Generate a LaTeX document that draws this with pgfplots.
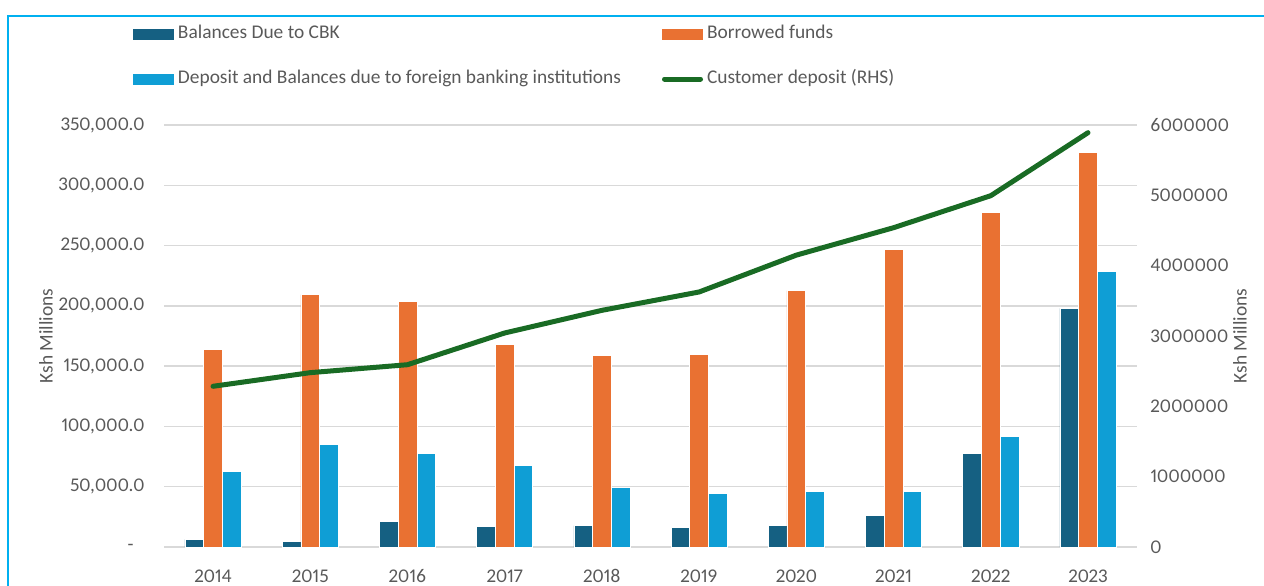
\documentclass[border=0pt]{standalone}
\usepackage{pgfplots}
\pgfplotsset{compat=1.18}
\usepackage{pgfplotstable}
\usepackage{fontspec}
\setmainfont{Carlito}[Numbers={Lining,Proportional}]
\definecolor{cbk}{HTML}{156082}
\definecolor{borr}{HTML}{E97132}
\definecolor{forn}{HTML}{0F9ED5}
\definecolor{cust}{HTML}{196B24}
\definecolor{gridc}{HTML}{D9D9D9}
\definecolor{txt}{HTML}{595959}
\definecolor{framec}{HTML}{00B0F0}

\pgfplotstableread{
x year cbk borrowed foreign customer
0 2014 6400 164000 62800 2285000
1 2015 4400 209300 85200 2479000
2 2016 21300 203500 77400 2592000
3 2017 17200 168100 67800 3043000
4 2018 17700 159000 49500 3365000
5 2019 16300 159600 44300 3626000
6 2020 18000 212700 46400 4150000
7 2021 26300 246600 46400 4540000
8 2022 77700 277600 91800 4995000
9 2023 198000 327600 228900 5891000
}\datatable

\newcommand{\fs}{\fontsize{9.7}{11.5}\selectfont}

\begin{document}
\begin{tikzpicture}
\begin{axis}[
  at={(0,0)}, anchor=south west,
  scale only axis, width=486.1pt, height=211pt,
  ybar=0pt, bar width=9.35pt,
  xmin=-0.5, xmax=9.5,
  xtick={0,1,2,3,4,5,6,7,8,9},
  xticklabels={2014,2015,2016,2017,2018,2019,2020,2021,2022,2023},
  ymin=0, ymax=350000,
  ytick={0,50000,100000,150000,200000,250000,300000,350000},
  yticklabels={{-\hphantom{0}},{50,000.0},{100,000.0},{150,000.0},{200,000.0},{250,000.0},{300,000.0},{350,000.0}},
  scaled y ticks=false,
  ymajorgrids, grid style={gridc, line width=0.75pt},
  major tick length=0pt,
  axis x line*=bottom, axis y line*=left,
  axis line style={draw=none},
  ticklabel style={font=\fs, text=txt, inner sep=0pt},
  yticklabel style={anchor=east, xshift=-9.7pt},
  xticklabel style={anchor=north, yshift=-11pt, text height=6.3pt, text depth=0pt},
  ylabel={Ksh Millions},
  every axis y label/.style={at={(axis description cs:-0.1218,0.5)}, anchor=center, rotate=90, font=\fs, text=txt},
  legend columns=2,
  legend cell align=left,
  legend style={at={(-0.0323,1.2355)}, anchor=north west, draw=none, fill=none, inner sep=0pt,
    font=\fs, text=txt, row sep=14.5pt,
    nodes={inner sep=0pt, text height=6pt, text depth=2pt},
    /tikz/every odd column/.append style={column sep=2pt},
    /tikz/every even column/.append style={column sep=20.5pt}},
]
\addplot[fill=cbk, draw=white, line width=0.3pt,
  legend image code/.code={\fill[cbk] (0pt,-2.5pt) rectangle (20pt,2.5pt);}]
  table[x=x, y=cbk] {\datatable};
\addlegendentry{Balances Due to CBK}
\addplot[fill=borr, draw=white, line width=0.3pt,
  legend image code/.code={\fill[borr] (0pt,-2.5pt) rectangle (20pt,2.5pt);}]
  table[x=x, y=borrowed] {\datatable};
\addlegendentry{Borrowed funds}
\addplot[fill=forn, draw=white, line width=0.3pt,
  legend image code/.code={\fill[forn] (0pt,-2.5pt) rectangle (20pt,2.5pt);}]
  table[x=x, y=foreign] {\datatable};
\addlegendentry{Deposit and Balances due to foreign banking institutions}
\addlegendimage{legend image code/.code={\draw[cust, line width=2.5pt, line cap=round] (1pt,0pt) -- (19pt,0pt);}}
\addlegendentry{Customer deposit (RHS)}
\end{axis}
\begin{axis}[
  at={(0,0)}, anchor=south west,
  scale only axis, width=486.1pt, height=211pt,
  xmin=-0.5, xmax=9.5,
  axis x line=none, axis y line*=right,
  axis line style={draw=none},
  major tick length=0pt,
  ymin=0, ymax=6000000,
  ytick={0,1000000,2000000,3000000,4000000,5000000,6000000},
  yticklabels={0,1000000,2000000,3000000,4000000,5000000,6000000},
  scaled y ticks=false,
  ticklabel style={font=\fs, text=txt, inner sep=0pt},
  yticklabel style={anchor=west, xshift=6.7pt},
  ylabel={Ksh Millions},
  every axis y label/.style={at={(axis description cs:1.1064,0.5)}, anchor=center, rotate=90, font=\fs, text=txt},
]
\addplot[cust, line width=2.5pt, line join=round, line cap=round, mark=none]
  table[x=x, y=customer] {\datatable};
\end{axis}
\draw[framec, line width=1pt] (-77.95pt,-40pt) -- (-77.95pt,265.5pt) -- (600pt,265.5pt);
\pgfresetboundingbox
\useasboundingbox (-82.2pt,-19pt) rectangle (549.8pt,273.5pt);
\end{tikzpicture}
\end{document}
